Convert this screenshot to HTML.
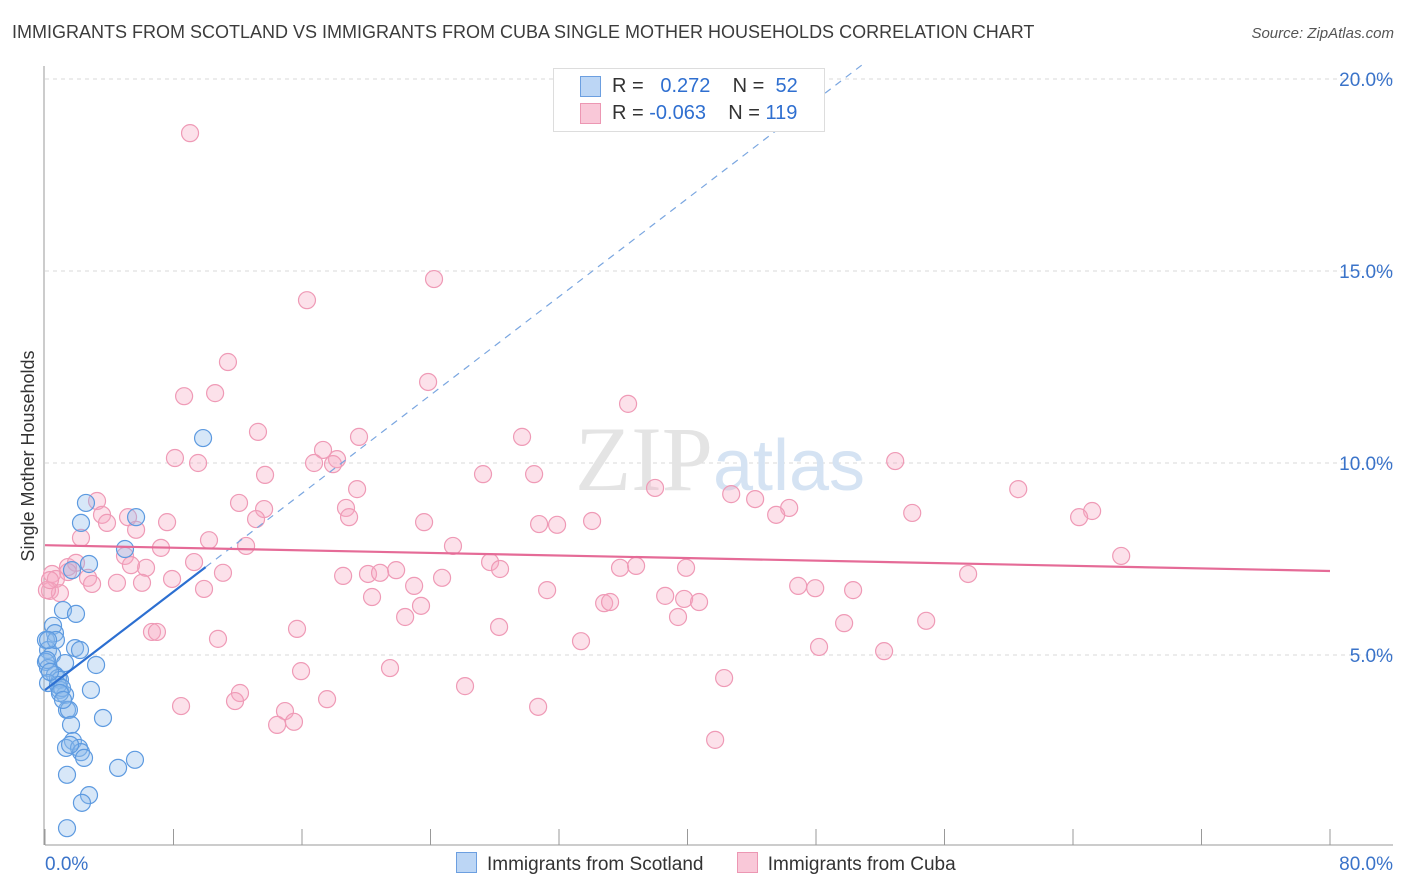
<!DOCTYPE html>
<html><head><meta charset="utf-8">
<style>
body{margin:0;background:#fff;font-family:"Liberation Sans",sans-serif;}
#wrap{position:relative;width:1406px;height:892px;overflow:hidden;}
.title{position:absolute;left:12px;top:22px;font-size:18px;color:#3c3c3c;}
.source{position:absolute;right:12px;top:25px;font-size:15px;color:#555;font-style:italic;}
</style></head><body>
<div id="wrap">
<div class="title">IMMIGRANTS FROM SCOTLAND VS IMMIGRANTS FROM CUBA SINGLE MOTHER HOUSEHOLDS CORRELATION CHART</div>
<div class="source">Source: ZipAtlas.com</div>
<svg id="chart" width="1406" height="892" style="position:absolute;left:0;top:0"></svg>
</div>
<script>
const xTicks=[0,8,16,24,32,40,48,56,64,72,80];
const yTicks=[5,10,15,20];
const yTickLabels=["5.0%","10.0%","15.0%","20.0%"];
const scotX=[9.84,2.55,2.24,5.67,4.98,2.74,1.68,1.12,1.93,0.50,0.62,0.06,0.19,1.87,2.18,0.44,0.06,1.25,3.18,0.19,0.62,0.81,0.93,0.19,2.86,0.93,1.25,1.37,1.49,3.61,1.62,1.74,1.31,2.12,2.24,2.43,1.37,4.55,5.60,2.74,2.30,1.37,0.12,0.81,1.06,0.31,0.68,1.56,0.93,0.19,1.12];
const scotY=[10.65,8.96,8.44,8.59,7.76,7.37,7.21,6.17,6.07,5.76,5.57,5.39,5.13,5.18,5.13,5.00,4.82,4.79,4.74,4.66,4.48,4.40,4.35,4.27,4.09,4.09,3.96,3.57,3.57,3.36,3.18,2.76,2.58,2.58,2.47,2.32,1.88,2.06,2.27,1.35,1.15,0.49,4.87,4.22,4.14,4.56,5.39,2.66,4.01,5.39,3.83];
const cubaX=[9.03,24.22,16.31,11.39,23.85,8.66,10.59,36.30,13.26,19.55,29.70,17.31,8.09,9.53,18.18,16.75,17.93,52.93,27.27,30.45,13.70,19.43,37.98,42.72,60.59,3.24,12.08,44.21,46.33,18.74,13.64,18.93,53.99,45.52,65.19,64.38,3.55,5.17,13.14,7.60,3.86,23.60,34.06,30.76,31.88,5.67,2.24,10.21,25.40,7.22,12.52,4.98,67.00,27.71,9.28,1.43,1.93,6.29,5.35,28.33,1.43,0.44,21.86,35.80,36.80,39.91,11.08,20.11,18.56,20.86,57.47,7.91,2.68,0.68,4.48,6.04,22.98,24.72,2.93,9.90,31.26,46.89,47.95,50.31,20.36,38.61,39.79,40.72,23.41,34.81,35.18,22.42,39.41,0.31,0.93,49.75,54.86,15.69,28.27,6.66,6.97,10.77,33.37,48.19,52.24,15.94,21.48,42.28,26.15,12.14,17.56,11.83,8.47,30.70,14.94,15.50,14.45,41.72,0.12,0.31];
const cubaY=[18.59,14.79,14.24,12.63,12.11,11.74,11.82,11.54,10.81,10.68,10.68,10.34,10.13,10.00,10.10,10.00,9.97,10.05,9.71,9.71,9.69,9.32,9.35,9.19,9.32,9.01,8.96,9.06,8.83,8.83,8.80,8.59,8.70,8.65,8.75,8.59,8.65,8.59,8.54,8.46,8.44,8.46,8.49,8.41,8.39,8.26,8.05,7.99,7.84,7.79,7.84,7.58,7.58,7.42,7.42,7.29,7.40,7.27,7.34,7.24,7.16,7.11,7.21,7.27,7.32,7.27,7.14,7.11,7.06,7.14,7.11,6.98,7.01,6.98,6.88,6.88,6.80,7.01,6.85,6.72,6.69,6.80,6.74,6.69,6.51,6.54,6.46,6.38,6.28,6.35,6.38,5.99,5.99,6.67,6.61,5.83,5.89,5.68,5.73,5.60,5.60,5.42,5.36,5.21,5.10,4.58,4.66,4.40,4.19,4.01,3.85,3.80,3.67,3.65,3.54,3.26,3.18,2.79,6.69,6.95];
const scotLine=[4.09,0.32]; // intercept, slope
const cubaLine=[7.86,-0.0084];
const NS="http://www.w3.org/2000/svg";
const svg=document.getElementById('chart');
const X0=45,X1=1330,Y0=847,PPY=38.4;
const sx=v=>X0+v*(X1-X0)/80;
const sy=v=>Y0-v*PPY;
function mk(tag,attrs,parent){const e=document.createElementNS(NS,tag);for(const k in attrs)e.setAttribute(k,attrs[k]);(parent||svg).appendChild(e);return e;}
// grid
yTicks.forEach((t,i)=>{
 const g=mk('line',{x1:X0,x2:1393,y1:sy(t),y2:sy(t),stroke:'#d8d8d8','stroke-dasharray':'4,4'});
 
 
 const tx=mk('text',{x:1393,y:sy(t)+7,'text-anchor':'end','font-size':19,fill:'#3a73c9','font-family':'Liberation Sans, sans-serif'});
 tx.textContent=yTickLabels[i];
 
 
});
const ax=mk('line',{x1:X0-1,x2:X0-1,y1:66,y2:845,stroke:'#999'});


const bx=mk('line',{x1:X0,x2:1393,y1:845,y2:845,stroke:'#999'});


xTicks.forEach(t=>{
 const l=mk('line',{x1:sx(t),x2:sx(t),y1:829,y2:845,stroke:'#999'});
 
 
});
[[0,'0.0%','start',45],[80,'80.0%','end',1393]].forEach(a=>{
 const t=mk('text',{x:a[3],y:870,'text-anchor':a[2],'font-size':19,fill:'#3a73c9'});
 t.textContent=a[1];
 
 
});
const yt=mk('text',{x:34,y:456,'text-anchor':'middle','font-size':18,fill:'#333',transform:'rotate(-90 34 456)'});
yt.textContent='Single Mother Households';


// watermark
const wm=mk('text',{x:720,y:490,'text-anchor':'middle','font-size':92,fill:'#e4e4e4','font-family':'Liberation Serif, serif'});
wm.innerHTML='ZIP<tspan fill="#d5e3f3" font-family="Liberation Sans, sans-serif" font-size="72">atlas</tspan>';


// points
cubaX.forEach((v,i)=>{
 const c=mk('circle',{cx:sx(v),cy:sy(cubaY[i]),r:8.5,fill:'rgba(246,170,195,0.35)',stroke:'#ef9ab6','stroke-width':1.2});
 
 
});
scotX.forEach((v,i)=>{
 const c=mk('circle',{cx:sx(v),cy:sy(scotY[i]),r:8.5,fill:'rgba(140,185,235,0.35)',stroke:'#5d9ae0','stroke-width':1.2});
 
 
});
// trend lines
const xe=10, xd=(20.4-scotLine[0])/scotLine[1];
const l1=mk('line',{x1:sx(0),y1:sy(scotLine[0]),x2:sx(xe),y2:sy(scotLine[0]+scotLine[1]*xe),stroke:'#2c6fd1','stroke-width':2.2});


const l2=mk('line',{x1:sx(xe),y1:sy(scotLine[0]+scotLine[1]*xe),x2:sx(xd),y2:sy(20.4),stroke:'#7aa6e0','stroke-width':1.2,'stroke-dasharray':'7,6'});


const l3=mk('line',{x1:sx(0),y1:sy(cubaLine[0]),x2:sx(80),y2:sy(cubaLine[0]+cubaLine[1]*80),stroke:'#e56b97','stroke-width':2.2});


</script>
<div style="position:absolute;left:553px;top:68px;width:270px;height:62px;border:1px solid #ddd;background:#fff;font-size:20px;color:#333;">
 <div style="position:absolute;left:26px;top:7px;width:19px;height:19px;background:#bcd6f5;border:1px solid #6c9fe0"></div>
 <div style="position:absolute;left:58px;top:6px">R = &nbsp;&nbsp;<span style="color:#2f6fd0">0.272</span>&nbsp;&nbsp;&nbsp; N = &nbsp;<span style="color:#2f6fd0">52</span></div>
 <div style="position:absolute;left:26px;top:34px;width:19px;height:19px;background:#f9c8d8;border:1px solid #ec97b3"></div>
 <div style="position:absolute;left:58px;top:33px">R = <span style="color:#2f6fd0">-0.063</span>&nbsp;&nbsp;&nbsp; N = <span style="color:#2f6fd0">119</span></div>
</div>
<div style="position:absolute;top:852px;left:456px;font-size:19px;color:#333;white-space:nowrap">
 <span><span style="display:inline-block;width:19px;height:19px;background:#bcd6f5;border:1px solid #6c9fe0;vertical-align:-3px;margin-right:10px"></span>Immigrants from Scotland</span>
 <span style="margin-left:28px"><span style="display:inline-block;width:19px;height:19px;background:#f9c8d8;border:1px solid #ec97b3;vertical-align:-3px;margin-right:10px"></span>Immigrants from Cuba</span>
</div>
</body></html>
